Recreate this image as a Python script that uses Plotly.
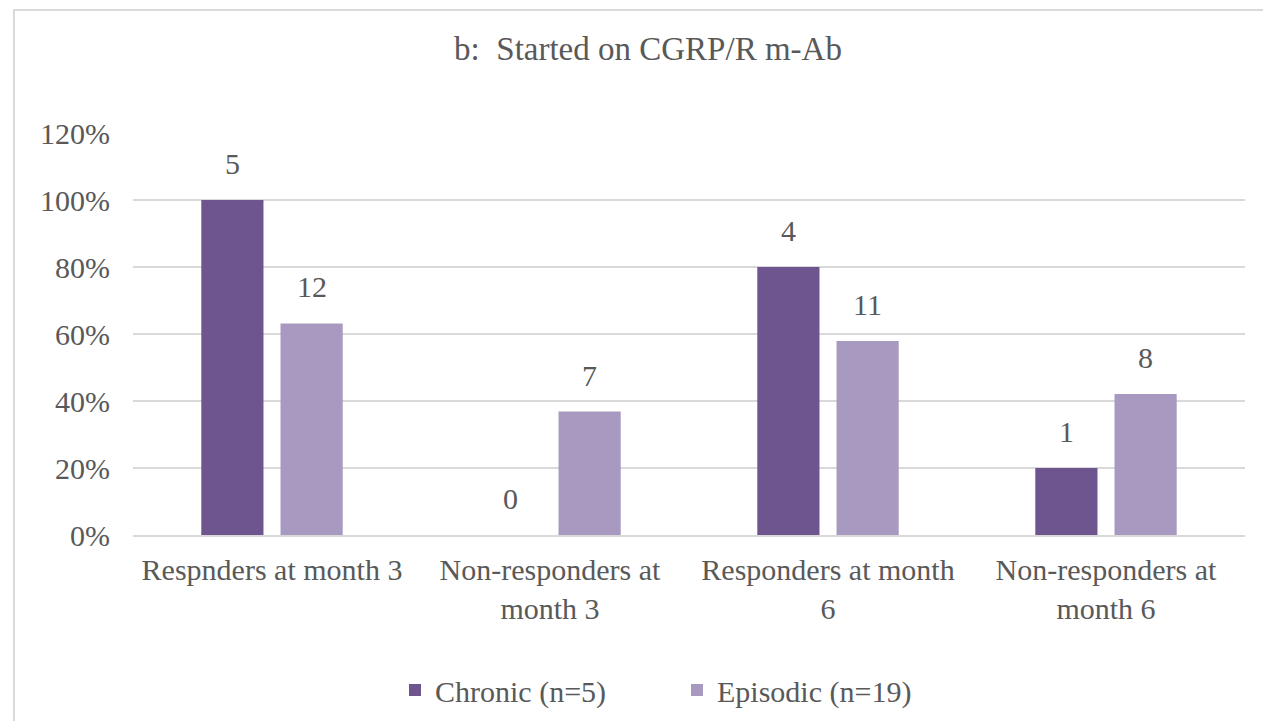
import plotly.graph_objects as go

categories = ["Respnders at month 3", "Non-responders at<br>month 3",
              "Responders at month<br>6", "Non-responders at<br>month 6"]
chronic_pct = [100, 0, 80, 20]
episodic_pct = [63.16, 36.84, 57.89, 42.11]
chronic_n = ["5", "0", "4", "1"]
episodic_n = ["12", "7", "11", "8"]
series_names = ["Chronic (n=5)", "Episodic (n=19)"]
yticks = [0, 20, 40, 60, 80, 100, 120]
ytick_labels = ["0%", "20%", "40%", "60%", "80%", "100%", "120%"]

C1 = "#6e5590"
C2 = "#a899c0"
TXT = "#595959"
FONT = "Liberation Serif"
FS = 30

# page has an 8px body margin; figure is sized to fill the rest
W, H = 1263, 713
ML, MR, MT, MB = 125, 26, 125, 186
plot_w = W - ML - MR
plot_h = H - MT - MB
bargap = 0.43
cat_px = plot_w / len(categories)
slot_px = cat_px * (1 - bargap) / 2

fig = go.Figure()
fig.add_trace(go.Bar(x=categories, y=chronic_pct, name=series_names[0],
                     marker=dict(color=C1, line=dict(width=0))))
fig.add_trace(go.Bar(x=categories, y=episodic_pct, name=series_names[1],
                     marker=dict(color=C2, line=dict(width=0))))

annotations = []
for vals, labels, shift in [(chronic_pct, chronic_n, -slot_px / 2),
                            (episodic_pct, episodic_n, slot_px / 2)]:
    for cat, v, lab in zip(categories, vals, labels):
        annotations.append(dict(x=cat, y=v, xref="x", yref="y", text=lab,
                                showarrow=False, xshift=shift, yanchor="bottom",
                                yshift=18, font=dict(family=FONT, size=FS, color=TXT)))

def px_to_paper_x(px):
    return (px - ML) / plot_w

def px_to_paper_y(py):
    return (H - MB - py) / plot_h

fig.update_layout(
    width=W, height=H,
    margin=dict(l=ML, r=MR, t=MT, b=MB, autoexpand=False),
    paper_bgcolor="white", plot_bgcolor="white",
    barmode="group", bargap=bargap, bargroupgap=0.215,
    title=dict(text="b:  Started on CGRP/R m-Ab", x=640 / W, xanchor="center",
               y=1 - 40 / H, yanchor="middle",
               font=dict(family=FONT, size=33, color=TXT)),
    font=dict(family=FONT, size=FS, color=TXT),
    xaxis=dict(showgrid=False, showline=True, linecolor="#d9d9d9", linewidth=1.5,
               ticks="", ticklabelstandoff=7, automargin=False,
               tickfont=dict(family=FONT, size=FS, color=TXT)),
    yaxis=dict(range=[0, 120], tickvals=yticks, ticktext=ytick_labels,
               showgrid=True, gridcolor="#d9d9d9", gridwidth=1.5, automargin=False,
               zeroline=False, showline=False, ticks="", ticklabelstandoff=22,
               tickfont=dict(family=FONT, size=FS, color=TXT)),
    legend=dict(orientation="h", x=0.5 - 12 / plot_w, xanchor="center",
                yref="container", y=(H - 682) / H, yanchor="middle",
                font=dict(family=FONT, size=FS, color=TXT),
                itemwidth=30, tracegroupgap=0, entrywidth=237),
    annotations=annotations,
    shapes=[dict(type="rect", xref="paper", yref="paper",
                 x0=px_to_paper_x(6), x1=px_to_paper_x(1280),
                 y0=px_to_paper_y(730), y1=px_to_paper_y(2),
                 line=dict(color="#d9d9d9", width=2), fillcolor="rgba(0,0,0,0)",
                 layer="below")],
    showlegend=True,
)

fig.write_html("out.html")
